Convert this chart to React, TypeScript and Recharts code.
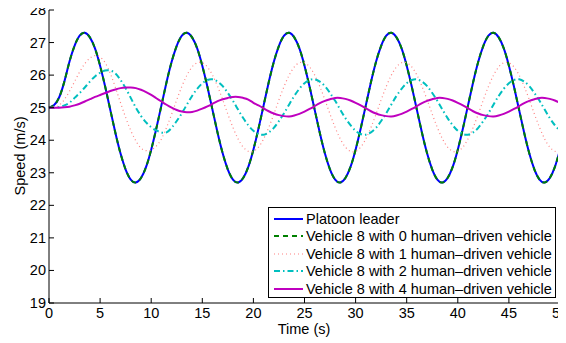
import React from "react";
import { LineChart, Line, XAxis, YAxis } from "recharts";

// sampled every 0.5 s, t = 0 .. 50
const times: number[] = Array.from({ length: 101 }, (_, i) => i * 0.5);

const leader = [
  25.0, 25.08, 25.32, 25.8, 26.41, 26.9, 27.21, 27.3, 27.16, 26.82, 26.29, 25.64, 24.93, 24.22, 23.59, 23.1, 22.79, 22.7, 22.84, 23.18,
  23.71, 24.36, 25.07, 25.78, 26.41, 26.9, 27.21, 27.3, 27.16, 26.82, 26.29, 25.64, 24.93, 24.22, 23.59, 23.1, 22.79, 22.7, 22.84, 23.18,
  23.71, 24.36, 25.07, 25.78, 26.41, 26.9, 27.21, 27.3, 27.16, 26.82, 26.29, 25.64, 24.93, 24.22, 23.59, 23.1, 22.79, 22.7, 22.84, 23.18,
  23.71, 24.36, 25.07, 25.78, 26.41, 26.9, 27.21, 27.3, 27.16, 26.82, 26.29, 25.64, 24.93, 24.22, 23.59, 23.1, 22.79, 22.7, 22.84, 23.18,
  23.71, 24.36, 25.07, 25.78, 26.41, 26.9, 27.21, 27.3, 27.16, 26.82, 26.29, 25.64, 24.93, 24.22, 23.59, 23.1, 22.79, 22.7, 22.84, 23.18,
  23.71,
];

// vehicle 8, no human-driven vehicles: tracks the leader
const veh0 = leader;

const veh1 = [
  25.0, 25.02, 25.08, 25.25, 25.5, 25.8, 26.1, 26.35, 26.52, 26.6, 26.55, 26.38, 26.05, 25.62, 25.15, 24.7, 24.3, 23.98, 23.76, 23.68,
  23.7, 23.82, 24.04, 24.39, 24.8, 25.24, 25.65, 26.0, 26.25, 26.38, 26.38, 26.25, 26.0, 25.65, 25.24, 24.8, 24.39, 24.04, 23.79, 23.66,
  23.66, 23.79, 24.04, 24.39, 24.8, 25.24, 25.65, 26.0, 26.25, 26.38, 26.38, 26.25, 26.0, 25.65, 25.24, 24.8, 24.39, 24.04, 23.79, 23.66,
  23.66, 23.79, 24.04, 24.39, 24.8, 25.24, 25.65, 26.0, 26.25, 26.38, 26.38, 26.25, 26.0, 25.65, 25.24, 24.8, 24.39, 24.04, 23.79, 23.66,
  23.66, 23.79, 24.04, 24.39, 24.8, 25.24, 25.65, 26.0, 26.25, 26.38, 26.38, 26.25, 26.0, 25.65, 25.24, 24.8, 24.39, 24.04, 23.79, 23.66,
  23.66,
];

const veh2 = [
  25.0, 25.0, 25.02, 25.07, 25.15, 25.3, 25.45, 25.62, 25.8, 25.96, 26.07, 26.14, 26.14, 26.05, 25.85, 25.6, 25.3, 25.0, 24.75, 24.55,
  24.4, 24.3, 24.24, 24.24, 24.38, 24.59, 24.83, 25.1, 25.36, 25.58, 25.75, 25.85, 25.87, 25.8, 25.66, 25.45, 25.21, 24.94, 24.68, 24.46,
  24.29, 24.19, 24.17, 24.24, 24.38, 24.59, 24.83, 25.1, 25.36, 25.58, 25.75, 25.85, 25.87, 25.8, 25.66, 25.45, 25.21, 24.94, 24.68, 24.46,
  24.29, 24.19, 24.17, 24.24, 24.38, 24.59, 24.83, 25.1, 25.36, 25.58, 25.75, 25.85, 25.87, 25.8, 25.66, 25.45, 25.21, 24.94, 24.68, 24.46,
  24.29, 24.19, 24.17, 24.24, 24.38, 24.59, 24.83, 25.1, 25.36, 25.58, 25.75, 25.85, 25.87, 25.8, 25.66, 25.45, 25.21, 24.94, 24.68, 24.46,
  24.29,
];

const veh4 = [
  25.0, 25.0, 25.0, 25.01, 25.03, 25.07, 25.12, 25.19, 25.26, 25.33, 25.39, 25.45, 25.51, 25.56, 25.6, 25.62, 25.62, 25.6, 25.55, 25.48,
  25.39, 25.29, 25.19, 25.09, 25.0, 24.93, 24.88, 24.86, 24.87, 24.91, 24.97, 25.04, 25.12, 25.2, 25.26, 25.3, 25.33, 25.33, 25.3, 25.25,
  25.15, 25.07, 24.98, 24.89, 24.82, 24.77, 24.74, 24.73, 24.76, 24.81, 24.88, 24.96, 25.05, 25.14, 25.21, 25.26, 25.3, 25.3, 25.27, 25.22,
  25.15, 25.07, 24.98, 24.89, 24.82, 24.77, 24.74, 24.73, 24.76, 24.81, 24.88, 24.96, 25.05, 25.14, 25.21, 25.26, 25.3, 25.3, 25.27, 25.22,
  25.15, 25.07, 24.98, 24.89, 24.82, 24.77, 24.74, 24.73, 24.76, 24.81, 24.88, 24.96, 25.05, 25.14, 25.21, 25.26, 25.3, 25.3, 25.27, 25.22,
  25.15,
];

const xTicks = [0, 5, 10, 15, 20, 25, 30, 35, 40, 45, 50];
const yTicks = [19, 20, 21, 22, 23, 24, 25, 26, 27, 28];

const seriesInfo = [
  { key: "leader", name: "Platoon leader", color: "#0000ff", dash: undefined, width: 2 },
  { key: "veh0", name: "Vehicle 8 with 0 human\u2013driven vehicle", color: "#008000", dash: "5 4", width: 2 },
  { key: "veh1", name: "Vehicle 8 with 1 human\u2013driven vehicle", color: "#ff8080", dash: "1 3", width: 1.2 },
  { key: "veh2", name: "Vehicle 8 with 2 human\u2013driven vehicle", color: "#00bfbf", dash: "6 3 1.5 3", width: 2 },
  { key: "veh4", name: "Vehicle 8 with 4 human\u2013driven vehicle", color: "#bf00bf", dash: undefined, width: 2 },
];

const data = times.map((t, i) => ({
  t,
  leader: leader[i],
  veh0: veh0[i],
  veh1: veh1[i],
  veh2: veh2[i],
  veh4: veh4[i],
}));

const FONT = "'Liberation Sans', Arial, Helvetica, sans-serif";
const FS = 14.5;
const W = 566;
const H = 343;
const M = { top: 10, right: 6, bottom: 0, left: 0 };
const YW = 49;
const XH = 40;

const BottomTick = (props: any) => {
  const { x, y, payload } = props;
  return (
    <g>
      <line x1={x} y1={y} x2={x} y2={y - 5} stroke="#000" />
      <text x={x} y={y + 15} textAnchor="middle" fontSize={FS} fontFamily={FONT} fill="#000">
        {payload.value}
      </text>
    </g>
  );
};

const LeftTick = (props: any) => {
  const { x, y, payload } = props;
  return (
    <g>
      <line x1={x} y1={y} x2={x + 5} y2={y} stroke="#000" />
      <text x={x - 3} y={y + 5} textAnchor="end" fontSize={FS} fontFamily={FONT} fill="#000">
        {payload.value}
      </text>
    </g>
  );
};

const TopTick = (props: any) => {
  const { x, y } = props;
  return <line x1={x} y1={y} x2={x} y2={y + 5} stroke="#000" />;
};

const RightTick = (props: any) => {
  const { x, y } = props;
  return <line x1={x} y1={y} x2={x - 5} y2={y} stroke="#000" />;
};

const XLabel = () => (
  <text x={304} y={334} textAnchor="middle" fontSize={FS} fontFamily={FONT} fill="#000">
    Time (s)
  </text>
);

const YLabel = () => (
  <text transform="translate(25,156) rotate(-90)" textAnchor="middle" fontSize={FS} fontFamily={FONT} fill="#000">
    Speed (m/s)
  </text>
);

const LegendBox = () => (
  <div
    style={{
      position: "absolute",
      left: 268,
      top: 207,
      width: 288,
      height: 91,
      boxSizing: "border-box",
      border: "1px solid #000",
      background: "#fff",
      fontFamily: FONT,
      fontSize: FS,
      paddingTop: 2,
      overflow: "hidden",
    }}
  >
    {seriesInfo.map((s) => (
      <div key={s.key} style={{ display: "flex", alignItems: "center", height: 17.5, whiteSpace: "nowrap" }}>
        <svg width={36} height={10} style={{ flexShrink: 0 }}>
          <line x1={5} y1={5} x2={34} y2={5} stroke={s.color} strokeWidth={s.width} strokeDasharray={s.dash} />
        </svg>
        <span style={{ marginLeft: 1 }}>{s.name}</span>
      </div>
    ))}
  </div>
);

export default function App() {
  return (
    <div style={{ position: "relative", width: W, height: H, margin: "-8px 0 0 -8px", background: "#fff" }}>
      <LineChart width={W} height={H} data={data} margin={M}>
        <XAxis
          dataKey="t"
          type="number"
          domain={[0, 50]}
          ticks={xTicks}
          interval={0}
          tickSize={0}
          tickMargin={0}
          tickLine={false}
          tick={<BottomTick />}
          height={XH}
          axisLine={{ stroke: "#000" }}
          label={{ content: () => <XLabel /> }}
        />
        <XAxis
          xAxisId="top"
          dataKey="t"
          type="number"
          orientation="top"
          domain={[0, 50]}
          ticks={xTicks}
          interval={0}
          tickSize={0}
          tickMargin={0}
          tickLine={false}
          tick={<TopTick />}
          height={0}
          axisLine={{ stroke: "#000" }}
        />
        <YAxis
          type="number"
          domain={[19, 28]}
          ticks={yTicks}
          interval={0}
          tickSize={0}
          tickMargin={0}
          tickLine={false}
          tick={<LeftTick />}
          width={YW}
          axisLine={{ stroke: "#000" }}
          label={{ content: () => <YLabel /> }}
        />
        <YAxis
          yAxisId="right"
          type="number"
          orientation="right"
          domain={[19, 28]}
          ticks={yTicks}
          interval={0}
          tickSize={0}
          tickMargin={0}
          tickLine={false}
          tick={<RightTick />}
          width={0}
          axisLine={{ stroke: "#000", strokeWidth: 1.5 }}
        />
        {seriesInfo.map((s) => (
          <Line
            key={s.key}
            dataKey={s.key}
            name={s.name}
            type="natural"
            stroke={s.color}
            strokeWidth={s.width}
            strokeDasharray={s.dash}
            dot={false}
            activeDot={false}
            isAnimationActive={false}
          />
        ))}
      </LineChart>
      <LegendBox />
    </div>
  );
}
